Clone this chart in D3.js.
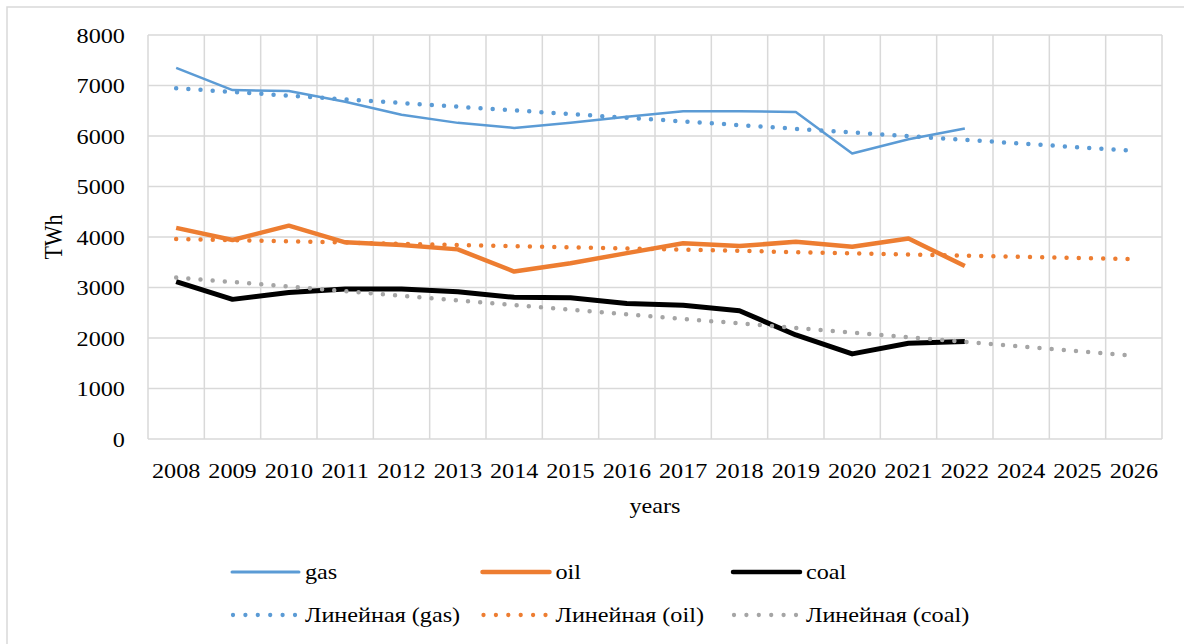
<!DOCTYPE html>
<html>
<head>
<meta charset="utf-8">
<script src="https://cdn.jsdelivr.net/npm/d3@7"></script>
<style>
  body { margin: 0; background: #fff; }
  text { font-family: "Liberation Serif", "Times New Roman", serif; fill: #000; }
</style>
</head>
<body>
<div id="chart"></div>
<script>
var years = ["2008", "2009", "2010", "2011", "2012", "2013", "2014", "2015", "2016",
  "2017", "2018", "2019", "2020", "2021", "2022", "2024", "2025", "2026"];
var dataYears = years.slice(0, 15);
var gas = [7350, 6910, 6890, 6680, 6420, 6260, 6160, 6260, 6380, 6490, 6490, 6475, 5655, 5935, 6150];
var oil = [4180, 3940, 4225, 3895, 3840, 3755, 3315, 3480, 3680, 3875, 3820, 3905, 3805, 3970, 3425];
var coal = [3115, 2765, 2900, 2970, 2970, 2915, 2805, 2795, 2685, 2650, 2540, 2060, 1685, 1895, 1930];
// trend lines (linear), read at first and last category
var trendYears = ["2008", "2026"];
var trendGas = [6945, 5705];
var trendOil = [3960, 3560];
var trendCoal = [3200, 1650];
var yTicks = [0, 1000, 2000, 3000, 4000, 5000, 6000, 7000, 8000];

var margin = { top: 35, right: 22, bottom: 205, left: 148 },
  width = 1184 - margin.left - margin.right,
  height = 644 - margin.top - margin.bottom;
var fontSize = 22;
var stretch = "scale(1.1,1)";

var svg = d3.select("#chart").append("svg")
  .attr("width", 1184)
  .attr("height", 644);

// chart border
svg.append("rect")
  .attr("x", 7).attr("y", 7)
  .attr("width", 1200).attr("height", 700)
  .attr("fill", "none")
  .attr("stroke", "#d9d9d9")
  .attr("stroke-width", 1.5);

var g = svg.append("g")
  .attr("transform", "translate(" + margin.left + "," + margin.top + ")");

var x = d3.scaleBand().domain(years).range([0, width]).padding(0);
var y = d3.scaleLinear().domain([0, 8000]).range([height, 0]);
function cx(d) { return x(d) + x.bandwidth() / 2; }

// gridlines
g.append("g").selectAll("line")
  .data(yTicks)
  .enter().append("line")
  .attr("x1", 0).attr("x2", width)
  .attr("y1", function (d) { return y(d); })
  .attr("y2", function (d) { return y(d); })
  .attr("stroke", "#d9d9d9").attr("stroke-width", 1.5);

g.append("g").selectAll("line")
  .data(years.concat(["end"]))
  .enter().append("line")
  .attr("x1", function (d, i) { return i * x.bandwidth(); })
  .attr("x2", function (d, i) { return i * x.bandwidth(); })
  .attr("y1", 0).attr("y2", height)
  .attr("stroke", "#d9d9d9").attr("stroke-width", 1.5);

// Y axis
var yAxis = g.append("g")
  .call(d3.axisLeft(y).tickValues(yTicks).tickFormat(d3.format("d")).tickSize(0).tickPadding(21));
yAxis.select(".domain").remove();
yAxis.selectAll("text")
  .attr("font-size", fontSize)
  .attr("transform", stretch);

// X axis
var xAxis = g.append("g")
  .attr("transform", "translate(0," + height + ")")
  .call(d3.axisBottom(x).tickSize(0));
xAxis.select(".domain").remove();
xAxis.selectAll("text")
  .attr("y", 23)
  .attr("font-size", fontSize)
  .attr("transform", stretch);

// axis titles
svg.append("text")
  .attr("transform", "translate(655,513) " + stretch)
  .attr("text-anchor", "middle")
  .attr("font-size", fontSize)
  .text("years");

svg.append("text")
  .attr("transform", "translate(62,237) rotate(-90) scale(1,1.1)")
  .attr("text-anchor", "middle")
  .attr("font-size", fontSize)
  .text("TWh");

var line = d3.line()
  .x(function (d) { return cx(d.year); })
  .y(function (d) { return y(d.value); });

function pairs(ys, vals) {
  return ys.map(function (yr, i) { return { year: yr, value: vals[i] }; });
}

var series = [
  { name: "gas", values: gas, color: "#5b9bd5", w: 2.5 },
  { name: "oil", values: oil, color: "#ed7d31", w: 4.5 },
  { name: "coal", values: coal, color: "#000000", w: 5 }
];
var trends = [
  { name: "Линейная (gas)", values: trendGas, color: "#5b9bd5" },
  { name: "Линейная (oil)", values: trendOil, color: "#ed7d31" },
  { name: "Линейная (coal)", values: trendCoal, color: "#a5a5a5" }
];

series.forEach(function (s) {
  g.append("path")
    .datum(pairs(dataYears, s.values))
    .attr("d", line)
    .attr("fill", "none")
    .attr("stroke", s.color)
    .attr("stroke-width", s.w)
    .attr("stroke-linejoin", "round");
});

trends.forEach(function (t) {
  g.append("path")
    .datum(pairs(trendYears, t.values))
    .attr("d", line)
    .attr("fill", "none")
    .attr("stroke", t.color)
    .attr("stroke-width", 4.5)
    .attr("stroke-linecap", "round")
    .attr("stroke-dasharray", "0 12.2");
});

// legend
var legendX = [232, 482.5, 733];
var legend = svg.append("g");
series.forEach(function (s, i) {
  legend.append("line")
    .attr("x1", legendX[i]).attr("x2", legendX[i] + 67)
    .attr("y1", 572).attr("y2", 572)
    .attr("stroke", s.color)
    .attr("stroke-width", s.w === 2.5 ? 3 : 4.5)
    .attr("stroke-linecap", "round");
  legend.append("text")
    .attr("transform", "translate(" + (legendX[i] + 73) + ",579) " + stretch)
    .attr("font-size", fontSize)
    .text(s.name);
});
trends.forEach(function (t, i) {
  legend.append("line")
    .attr("x1", legendX[i] + 1).attr("x2", legendX[i] + 64)
    .attr("y1", 615).attr("y2", 615)
    .attr("stroke", t.color)
    .attr("stroke-width", 4.3)
    .attr("stroke-linecap", "round")
    .attr("stroke-dasharray", "0 12.4");
  legend.append("text")
    .attr("transform", "translate(" + (legendX[i] + 73) + ",622) " + stretch)
    .attr("font-size", fontSize)
    .text(t.name);
});
</script>
</body>
</html>
